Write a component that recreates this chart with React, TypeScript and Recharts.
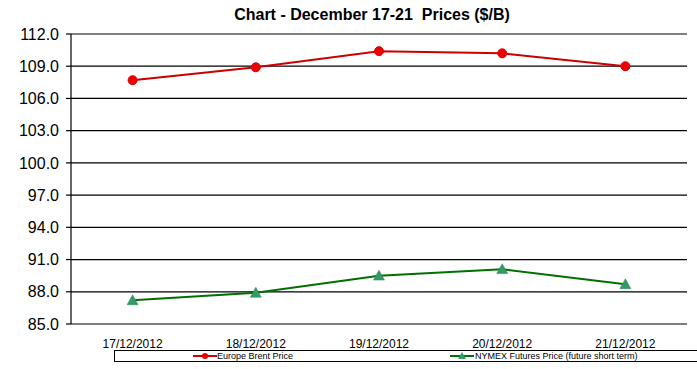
import React from "react";
import { LineChart, Line, XAxis, YAxis, CartesianGrid } from "recharts";

const categories = ["17/12/2012", "18/12/2012", "19/12/2012", "20/12/2012", "21/12/2012"];
const brent = [107.7, 108.9, 110.4, 110.2, 109.0];
const nymex = [87.2, 87.9, 89.5, 90.1, 88.7];
const yTicks = [85, 88, 91, 94, 97, 100, 103, 106, 109, 112];
const boundaryTicks = [0.5, 1.5, 2.5, 3.5, 4.5, 5.5];
const centerTicks = [1, 2, 3, 4, 5];

const data = categories.map((c, i) => ({ x: i + 1, label: c, brent: brent[i], nymex: nymex[i] }));

const RedDot = (props: any) => {
  const { cx, cy } = props;
  if (cx == null || cy == null) return null;
  return <circle cx={cx} cy={cy} r={4.5} fill="#ee0000" stroke="#dd0000" strokeWidth={1} />;
};

const GreenTri = (props: any) => {
  const { cx, cy } = props;
  if (cx == null || cy == null) return null;
  const s = 5.5;
  return (
    <path
      d={`M${cx},${cy - s} L${cx + s},${cy + s * 0.8} L${cx - s},${cy + s * 0.8} Z`}
      fill="#339966"
      stroke="#2e8b57"
      strokeWidth={0.5}
    />
  );
};

export default function App() {
  return (
    <div style={{ position: "absolute", left: 0, top: 0, width: 697, height: 369, background: "#ffffff", fontFamily: "Arial, 'Liberation Sans', sans-serif" }}>
      <div
        style={{
          position: "absolute",
          left: 0,
          width: 744,
          top: 6,
          textAlign: "center",
          fontWeight: "bold",
          fontSize: 16,
          color: "#000",
          whiteSpace: "pre",
        }}
      >
        {"Chart - December 17-21  Prices ($/B)"}
      </div>
      <LineChart
        width={697}
        height={369}
        data={data}
        margin={{ top: 34, right: 10, left: 0, bottom: 15 }}
        style={{ position: "absolute", left: 0, top: 0 }}
      >
        <CartesianGrid horizontal={true} vertical={false} stroke="#000" strokeWidth={1.2} />
        <XAxis
          xAxisId="b"
          dataKey="x"
          type="number"
          domain={[0.5, 5.5]}
          ticks={boundaryTicks}
          tick={false}
          tickLine={{ stroke: "#000", strokeWidth: 1.2 }}
          tickSize={5}
          axisLine={{ stroke: "#000", strokeWidth: 1.2 }}
          height={0}
          allowDataOverflow
        />
        <XAxis
          dataKey="x"
          type="number"
          domain={[0.5, 5.5]}
          ticks={centerTicks}
          tickFormatter={(v: number) => categories[v - 1]}
          tickLine={false}
          axisLine={false}
          tick={{ fill: "#000", fontSize: 12, fontFamily: "Arial, 'Liberation Sans', sans-serif" }}
          tickMargin={9}
          height={30}
          interval={0}
          allowDataOverflow
        />
        <YAxis
          domain={[85, 112]}
          ticks={yTicks}
          tickFormatter={(v: number) => v.toFixed(1)}
          tick={{ fill: "#000", fontSize: 16, fontFamily: "Arial, 'Liberation Sans', sans-serif" }}
          tickLine={{ stroke: "#000", strokeWidth: 1.2 }}
          tickSize={5}
          tickMargin={7}
          axisLine={{ stroke: "#000", strokeWidth: 1.2 }}
          width={71}
          interval={0}
          allowDataOverflow
        />
        <YAxis
          yAxisId="r"
          orientation="right"
          domain={[85, 112]}
          tick={false}
          tickLine={false}
          axisLine={{ stroke: "#000", strokeWidth: 1.2 }}
          width={0}
        />
        <Line
          dataKey="brent"
          stroke="#cc0000"
          strokeWidth={2}
          dot={<RedDot />}
          isAnimationActive={false}
        />
        <Line
          dataKey="nymex"
          stroke="#007000"
          strokeWidth={2}
          dot={<GreenTri />}
          isAnimationActive={false}
        />
      </LineChart>
      <div
        style={{
          position: "absolute",
          left: 114,
          top: 350,
          width: 590,
          height: 12,
          border: "1px solid #000",
          boxSizing: "border-box",
          fontSize: 9,
          color: "#000",
        }}
      >
        <svg width={24} height={10} style={{ position: "absolute", left: 78, top: 0 }}>
          <line x1={0} y1={5} x2={24} y2={5} stroke="#cc0000" strokeWidth={2} />
          <circle cx={12} cy={5} r={3} fill="#ee0000" />
        </svg>
        <span style={{ position: "absolute", left: 102, top: -1, lineHeight: "12px" }}>Europe Brent Price</span>
        <svg width={24} height={10} style={{ position: "absolute", left: 335, top: 0 }}>
          <line x1={0} y1={5} x2={24} y2={5} stroke="#007000" strokeWidth={2} />
          <path d="M12,1 L16,8 L8,8 Z" fill="#339966" />
        </svg>
        <span style={{ position: "absolute", left: 360, top: -1, lineHeight: "12px" }}>NYMEX Futures Price (future short term)</span>
      </div>
    </div>
  );
}
